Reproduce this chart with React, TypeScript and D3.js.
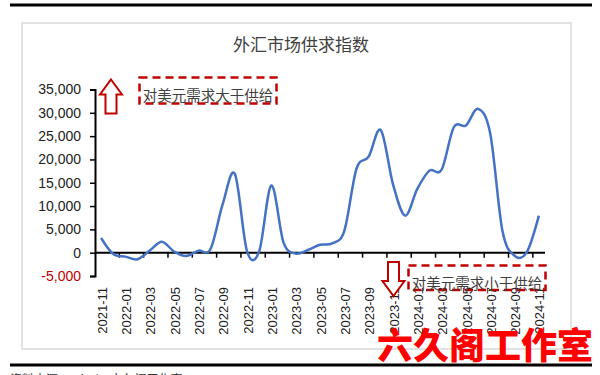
import { useRef, useEffect } from 'react';
import * as d3 from 'd3';

const months = [
  '2021-11', '2021-12', '2022-01', '2022-02', '2022-03', '2022-04', '2022-05', '2022-06',
  '2022-07', '2022-08', '2022-09', '2022-10', '2022-11', '2022-12', '2023-01', '2023-02',
  '2023-03', '2023-04', '2023-05', '2023-06', '2023-07', '2023-08', '2023-09', '2023-10',
  '2023-11', '2023-12', '2024-01', '2024-02', '2024-03', '2024-04', '2024-05', '2024-06',
  '2024-07', '2024-08', '2024-09', '2024-10', '2024-11',
];

// 外汇市场供求指数
const fxIndex = [
  3150, -300, -850, -1400, 450, 2350, 250, -700, 430, 800, 10400, 16900, 300,
  300, 14400, 2200, -200, 570, 1700, 2000, 4700, 18000, 20600, 26300, 14700,
  7950, 13700, 17600, 17800, 26900, 27300, 30850, 25500, 4700, -650, 100, 7950,
];

const yTicks = [-5000, 0, 5000, 10000, 15000, 20000, 25000, 30000, 35000];

const labelUp = '对美元需求大于供给';
const labelDown = '对美元需求小于供给';

export default function App() {
  const svgRef = useRef<SVGSVGElement>(null);

  useEffect(() => {
    if (!svgRef.current) return;
    const svg = d3.select(svgRef.current);
    svg.selectAll('*').remove();

    const red = '#c00000';
    const numFont = '"Liberation Sans", Arial, sans-serif';
    const cjkFont = '"Noto Sans CJK SC", sans-serif';

    // page rules
    svg.append('rect').attr('width', 600).attr('height', 375).attr('fill', '#fff');
    svg.append('line')
      .attr('x1', 10).attr('x2', 592).attr('y1', 5).attr('y2', 5)
      .attr('stroke', '#000').attr('stroke-width', 3);
    svg.append('line')
      .attr('x1', 10).attr('x2', 592).attr('y1', 365).attr('y2', 365)
      .attr('stroke', '#000').attr('stroke-width', 3);
    svg.append('text')
      .attr('x', 10).attr('y', 384)
      .attr('font-family', cjkFont).attr('font-size', 12).attr('fill', '#333')
      .text('资料来源：Wind，六久阁工作室');

    // chart frame
    svg.append('rect')
      .attr('x', 22).attr('y', 23).attr('width', 549).attr('height', 326)
      .attr('fill', '#fff').attr('stroke', '#d9d9d9').attr('stroke-width', 1.5);

    svg.append('text')
      .attr('x', 301).attr('y', 51)
      .attr('text-anchor', 'middle')
      .attr('font-family', cjkFont).attr('font-size', 17).attr('fill', '#404040')
      .text('外汇市场供求指数');

    const x = d3.scaleBand<string>().domain(months).range([95, 545]).padding(0);
    const y = d3.scaleLinear().domain([-5000, 35000]).range([276, 89.5]);
    const fmt = d3.formatLocale({
      decimal: '.', thousands: ',', grouping: [3], currency: ['', ''], minus: '-',
    }).format(',');

    // y axis
    const yAxis = svg.append('g').attr('transform', 'translate(95,0)')
      .call(d3.axisLeft(y).tickValues(yTicks).tickFormat((d) => fmt(d as number)).tickSize(5).tickPadding(9));
    yAxis.select('.domain').attr('stroke', '#000').attr('stroke-width', 2);
    yAxis.selectAll('.tick line').attr('stroke', '#000').attr('stroke-width', 1.5);
    yAxis.selectAll('.tick text')
      .attr('font-family', numFont).attr('font-size', 14)
      .attr('fill', (d) => ((d as number) < 0 ? red : '#222'));

    // x axis at zero
    const y0 = y(0);
    svg.append('line')
      .attr('x1', 95).attr('x2', 545).attr('y1', y0).attr('y2', y0)
      .attr('stroke', '#000').attr('stroke-width', 2);
    svg.selectAll('.xtick')
      .data(months.filter((_, i) => i > 0 && i % 2 === 0))
      .join('line')
      .attr('class', 'xtick')
      .attr('x1', (d) => x(d)!).attr('x2', (d) => x(d)!)
      .attr('y1', y0).attr('y2', y0 + 5)
      .attr('stroke', '#000').attr('stroke-width', 1.5);
    svg.selectAll('.xlabel')
      .data(months.filter((_, i) => i % 2 === 0))
      .join('text')
      .attr('class', 'xlabel')
      .attr('transform', (d) => `translate(${x(d)! + x.bandwidth() / 2 + 1},287) rotate(-90)`)
      .attr('text-anchor', 'end')
      .attr('dy', '0.35em')
      .attr('font-family', numFont).attr('font-size', 13).attr('fill', '#222')
      .text((d) => d);

    // series
    const line = d3.line<number>()
      .x((_, i) => x(months[i])! + x.bandwidth() / 2)
      .y((d) => y(d))
      .curve(d3.curveCardinal.tension(0));
    svg.append('path')
      .datum(fxIndex)
      .attr('d', line)
      .attr('fill', 'none')
      .attr('stroke', '#4472c4')
      .attr('stroke-width', 2.5);

    // annotations
    const arrow = (cx: number, tip: number, dir: 1 | -1) => {
      const headH = 15, headW = 11, shaftW = 5.5, total = 34;
      const base = tip + dir * headH;
      const end = tip + dir * total;
      return `M${cx},${tip} L${cx + headW},${base} L${cx + shaftW},${base} L${cx + shaftW},${end} ` +
        `L${cx - shaftW},${end} L${cx - shaftW},${base} L${cx - headW},${base} Z`;
    };
    svg.append('path').attr('d', arrow(111, 79.5, 1))
      .attr('fill', '#fff').attr('stroke', red).attr('stroke-width', 2);
    svg.append('path').attr('d', arrow(393.5, 296, -1))
      .attr('fill', '#fff').attr('stroke', red).attr('stroke-width', 2);

    const box = (bx: number, by: number, bw: number, bh: number, label: string, ty: number) => {
      svg.append('rect')
        .attr('x', bx).attr('y', by).attr('width', bw).attr('height', bh)
        .attr('fill', 'none').attr('stroke', red).attr('stroke-width', 2.5)
        .attr('stroke-dasharray', '8,5');
      svg.append('text')
        .attr('x', bx + bw / 2).attr('y', ty)
        .attr('text-anchor', 'middle')
        .attr('font-family', cjkFont).attr('font-size', 14.5).attr('fill', '#404040')
        .text(label);
    };
    box(139.5, 77.5, 137, 26, labelUp, 101);
    box(408.5, 265.5, 137, 24.5, labelDown, 289);

    // watermark
    svg.append('text')
      .attr('x', 377).attr('y', 359)
      .attr('font-family', cjkFont).attr('font-size', 36).attr('font-weight', 900)
      .attr('fill', '#ff0000')
      .text('六久阁工作室');
  }, []);

  return (
    <svg
      ref={svgRef}
      width={600}
      height={375}
      style={{ position: 'absolute', left: 0, top: 0 }}
    />
  );
}
